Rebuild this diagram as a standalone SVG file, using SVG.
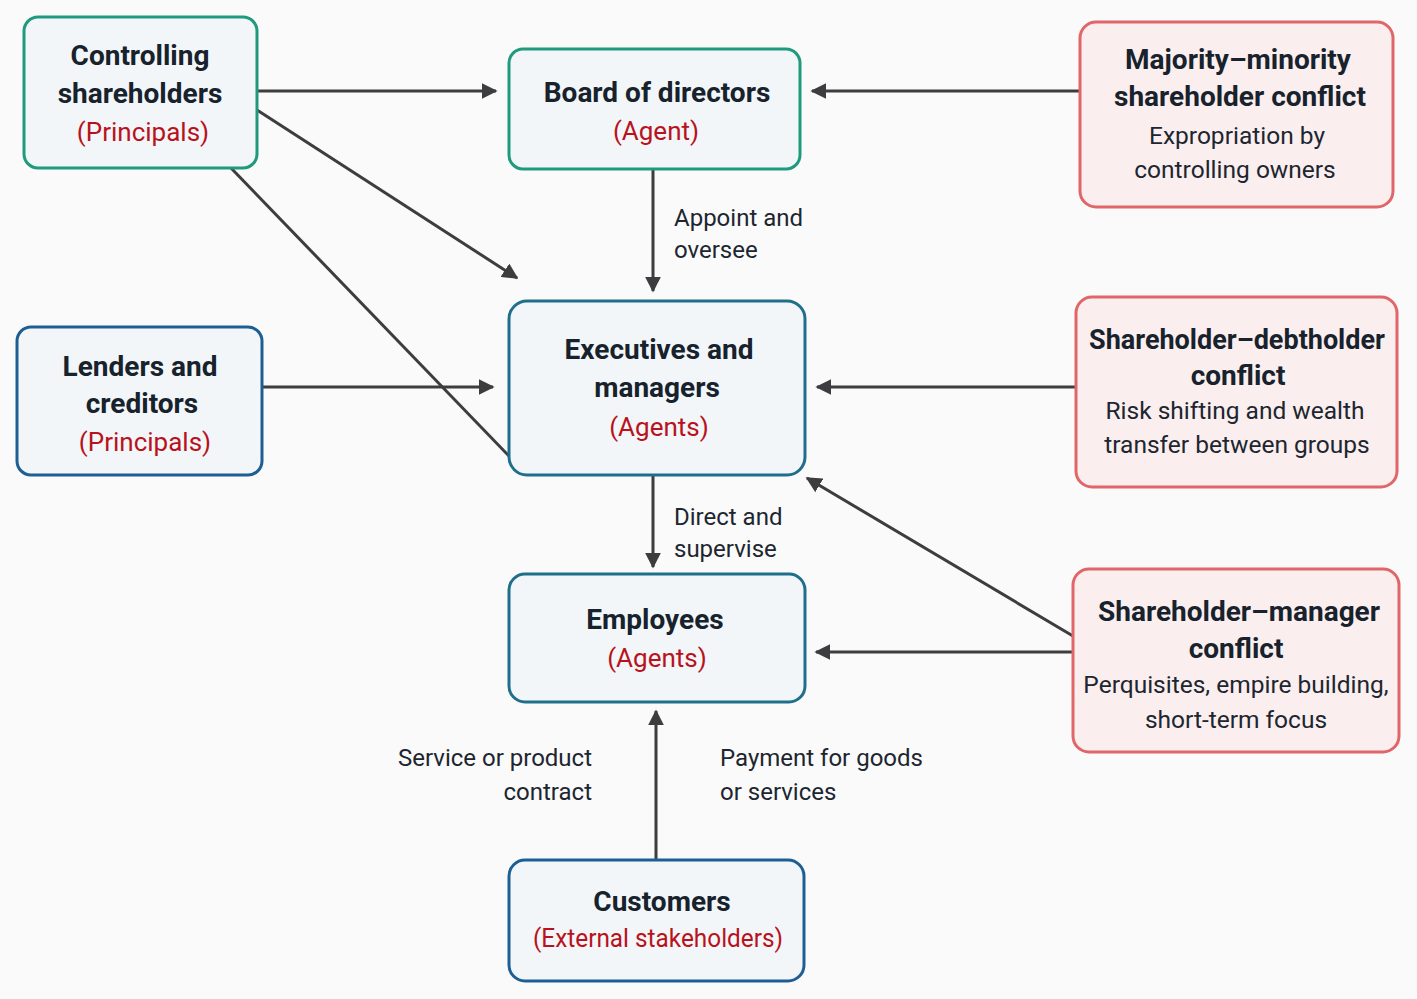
<svg xmlns="http://www.w3.org/2000/svg" width="1417" height="999" viewBox="0 0 1417 999">
<defs>
<marker id="ah" viewBox="0 0 10 10" refX="9" refY="5" markerWidth="16" markerHeight="16" markerUnits="userSpaceOnUse" orient="auto-start-reverse">
<path d="M0,0 L10,5 L0,10 Z" fill="#3d3d3f"/>
</marker>
<style>
.box{fill:#f2f6f8;stroke-width:3}
.g{stroke:#1f9a7c}
.b{stroke:#1e5f93}
.t{stroke:#1f6f8c}
.r{fill:#fbeeee;stroke:#e0666a}
.h{font-family:Roboto,"Noto Sans",sans-serif;font-weight:bold;font-size:28px;fill:#17222d;text-anchor:middle}
.s{font-family:Roboto,"Noto Sans",sans-serif;font-size:26px;fill:#b8121d;text-anchor:middle}
.d{font-family:Roboto,"Noto Sans",sans-serif;font-size:24.5px;fill:#1d2630;text-anchor:middle}
.l{font-family:Roboto,"Noto Sans",sans-serif;font-size:24px;fill:#1d2630}
.c{stroke:#3d3d3f;stroke-width:3;fill:none}
.a{marker-end:url(#ah)}
</style>
</defs>
<rect width="1417" height="999" fill="#fafafa"/>
<g id="connectors">
<line class="c a" x1="257" y1="91" x2="496" y2="91"/>
<line class="c a" x1="257" y1="110" x2="517" y2="278"/>
<line class="c" x1="230" y1="167" x2="509" y2="456"/>
<line class="c a" x1="1080" y1="91" x2="812" y2="91"/>
<line class="c a" x1="653" y1="169" x2="653" y2="291"/>
<line class="c a" x1="262" y1="387" x2="493" y2="387"/>
<line class="c a" x1="1076" y1="387" x2="817" y2="387"/>
<line class="c a" x1="653" y1="475" x2="653" y2="567"/>
<line class="c a" x1="1073" y1="636" x2="807" y2="478"/>
<line class="c a" x1="1073" y1="652" x2="816" y2="652"/>
<line class="c a" x1="656" y1="860" x2="656" y2="711"/>
<text class="l" x="674" y="226">Appoint and</text>
<text class="l" x="674" y="258">oversee</text>
<text class="l" x="674" y="525">Direct and</text>
<text class="l" x="674" y="557">supervise</text>
<text class="l" x="592" y="766" text-anchor="end">Service or product</text>
<text class="l" x="592" y="800" text-anchor="end">contract</text>
<text class="l" x="720" y="766">Payment for goods</text>
<text class="l" x="720" y="800">or services</text>
</g>
<g id="controlling">
<rect class="box g" x="24" y="17" width="233" height="151" rx="14"/>
<text class="h" x="140" y="65">Controlling</text>
<text class="h" x="140" y="103">shareholders</text>
<text class="s" x="143" y="141">(Principals)</text>
</g>
<g id="board">
<rect class="box g" x="509" y="49" width="291" height="120" rx="14"/>
<text class="h" x="657" y="102">Board of directors</text>
<text class="s" x="656" y="140">(Agent)</text>
</g>
<g id="majority">
<rect class="box r" x="1080" y="22" width="313" height="185" rx="16"/>
<text class="h" x="1238" y="69">Majority–minority</text>
<text class="h" x="1240" y="106">shareholder conflict</text>
<text class="d" x="1237" y="144">Expropriation by</text>
<text class="d" x="1235" y="178">controlling owners</text>
</g>
<g id="lenders">
<rect class="box b" x="17" y="327" width="245" height="148" rx="14"/>
<text class="h" x="140" y="376">Lenders and</text>
<text class="h" x="142" y="413">creditors</text>
<text class="s" x="145" y="451">(Principals)</text>
</g>
<g id="executives">
<rect class="box t" x="509" y="301" width="296" height="174" rx="18"/>
<text class="h" x="659" y="359">Executives and</text>
<text class="h" x="657" y="397">managers</text>
<text class="s" x="659" y="436">(Agents)</text>
</g>
<g id="debtholder">
<rect class="box r" x="1076" y="297" width="321" height="190" rx="16"/>
<text class="h" x="1237" y="349" style="font-size:27px">Shareholder–debtholder</text>
<text class="h" x="1238" y="385">conflict</text>
<text class="d" x="1235" y="419">Risk shifting and wealth</text>
<text class="d" x="1237" y="453">transfer between groups</text>
</g>
<g id="employees">
<rect class="box t" x="509" y="574" width="296" height="128" rx="16"/>
<text class="h" x="655" y="629">Employees</text>
<text class="s" x="657" y="667">(Agents)</text>
</g>
<g id="manager">
<rect class="box r" x="1073" y="569" width="326" height="183" rx="16"/>
<text class="h" x="1239" y="621">Shareholder–manager</text>
<text class="h" x="1236" y="658">conflict</text>
<text class="d" x="1236" y="693">Perquisites, empire building,</text>
<text class="d" x="1236" y="728">short-term focus</text>
</g>
<g id="customers">
<rect class="box b" x="509" y="860" width="295" height="121" rx="16"/>
<text class="h" x="662" y="911">Customers</text>
<text class="s" x="658" y="947" textLength="250" lengthAdjust="spacingAndGlyphs">(External stakeholders)</text>
</g>
</svg>
